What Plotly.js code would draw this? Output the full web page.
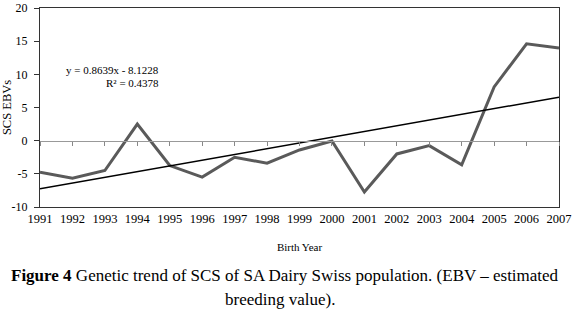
<!DOCTYPE html>
<html>
<head>
<meta charset="utf-8">
<script src="https://cdn.plot.ly/plotly-3.0.1.min.js"></script>
<style>html,body{margin:0;padding:0;background:#fff;}#chart{width:576px;height:312px;}</style>
</head>
<body>
<div id="chart"></div>
<script>
const years = [1991,1992,1993,1994,1995,1996,1997,1998,1999,2000,2001,2002,2003,2004,2005,2006,2007];
const scsEBV = [-4.75,-5.65,-4.5,2.5,-3.75,-5.5,-2.5,-3.4,-1.4,-0.05,-7.75,-2.0,-0.75,-3.65,8.1,14.6,13.95];
const trendYears = [1991, 2007];
const trendValues = [-7.26, 6.56];
const yTicks = [-10,-5,0,5,10,15,20];
const xTickLabels = years.map(String);

const FONT = '"Liberation Serif", "Times New Roman", serif';

const traces = [
  {x: years, y: scsEBV, type: 'scatter', mode: 'lines', line: {color: '#5a5a5a', width: 3}, hoverinfo: 'x+y'},
  {x: trendYears, y: trendValues, type: 'scatter', mode: 'lines', line: {color: '#000000', width: 1.5}, hoverinfo: 'skip'},
  {x: years, y: years.map(() => null), xaxis: 'x2', type: 'scatter', mode: 'lines', hoverinfo: 'skip'}
];

const layout = {
  width: 576, height: 312,
  margin: {l: 40, r: 17, t: 8, b: 105},
  paper_bgcolor: '#fff', plot_bgcolor: '#fff',
  showlegend: false,
  font: {family: FONT, color: '#000', size: 12},
  xaxis: {
    range: [1991, 2007], tickvals: years, ticktext: xTickLabels,
    showgrid: false, zeroline: false, showline: true, mirror: true,
    linecolor: '#333', linewidth: 1, ticks: '', ticklen: 0,
    tickfont: {family: FONT, size: 12.5, color: '#000'},
    title: {text: 'Birth Year', font: {family: FONT, size: 11, color: '#000'}, standoff: 18}
  },
  xaxis2: {
    overlaying: 'x', anchor: 'free', position: 1/3, range: [1991, 2007],
    tickvals: years, showticklabels: false, ticks: 'outside', ticklen: 4, tickcolor: '#888',
    showline: true, linecolor: '#999', linewidth: 1, showgrid: false, zeroline: false
  },
  yaxis: {
    range: [-10, 20], tickvals: yTicks, ticktext: yTicks.map(String),
    showgrid: false, zeroline: false, showline: true, mirror: true,
    linecolor: '#333', linewidth: 1, ticks: 'outside', ticklen: 5, tickcolor: '#333',
    ticklabelstandoff: 4,
    tickfont: {family: FONT, size: 12, color: '#000'},
    title: {text: 'SCS EBVs', font: {family: FONT, size: 12.5, color: '#000'}, standoff: 4}
  },
  annotations: [
    {xref: 'paper', yref: 'paper', x: 0.234, y: 0.688, xanchor: 'right', yanchor: 'middle', showarrow: false,
     text: 'y = 0.8639x - 8.1228', font: {family: FONT, size: 11, color: '#000'}},
    {xref: 'paper', yref: 'paper', x: 0.234, y: 0.623, xanchor: 'right', yanchor: 'middle', showarrow: false,
     text: 'R² = 0.4378', font: {family: FONT, size: 11, color: '#000'}},
    {xref: 'paper', yref: 'paper', x: 0.473, y: -0.342, xanchor: 'center', yanchor: 'middle', showarrow: false,
     text: '<b>Figure 4</b> Genetic trend of SCS of SA Dairy Swiss population. (EBV – estimated', font: {family: FONT, size: 17, color: '#000'}},
    {xref: 'paper', yref: 'paper', x: 0.462, y: -0.467, xanchor: 'center', yanchor: 'middle', showarrow: false,
     text: 'breeding value).', font: {family: FONT, size: 17, color: '#000'}}
  ]
};

Plotly.newPlot('chart', traces, layout, {displayModeBar: false, staticPlot: true});
</script>
</body>
</html>
